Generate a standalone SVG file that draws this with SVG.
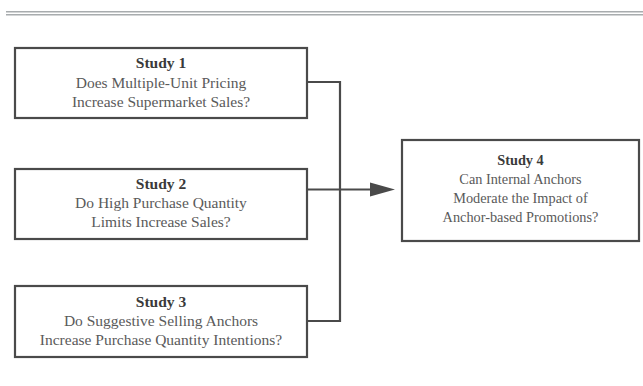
<svg xmlns="http://www.w3.org/2000/svg" width="643" height="386" viewBox="0 0 643 386">
<defs>
<style>
.box{fill:#fff;stroke:#4a4a4a;stroke-width:2.2}
.conn{fill:none;stroke:#4a4a4a;stroke-width:2.2}
.rule{stroke:#a8acae;stroke-width:1.6}
text{font-family:"Liberation Serif","Times New Roman",serif;font-size:15.5px;text-anchor:middle;fill:#5a5a5a}
#study4 text{font-size:14.3px}
.t{font-weight:bold;fill:#3a3a3a}
</style>
</defs>
<rect width="643" height="386" fill="#fff"/>
<line class="rule" x1="6" y1="11.8" x2="643" y2="11.8"/>
<line class="rule" x1="6" y1="14.8" x2="643" y2="14.8"/>
<g id="connectors">
<polyline class="conn" points="307,82 340,82 340,321 307,321"/>
<line class="conn" x1="307" y1="189.5" x2="372" y2="189.5"/>
<polygon points="370,182.5 395,189.5 370,196.5" fill="#4a4a4a"/>
</g>
<g id="study1">
<rect class="box" x="15" y="48" width="292" height="70"/>
<text class="t" x="161" y="68">Study 1</text>
<text x="161" y="88">Does Multiple-Unit Pricing</text>
<text x="161" y="107">Increase Supermarket Sales?</text>
</g>
<g id="study2">
<rect class="box" x="15" y="169" width="292" height="70"/>
<text class="t" x="161" y="189">Study 2</text>
<text x="161" y="208">Do High Purchase Quantity</text>
<text x="161" y="227">Limits Increase Sales?</text>
</g>
<g id="study3">
<rect class="box" x="15" y="286" width="292" height="71"/>
<text class="t" x="161" y="307">Study 3</text>
<text x="161" y="326">Do Suggestive Selling Anchors</text>
<text x="161" y="345">Increase Purchase Quantity Intentions?</text>
</g>
<g id="study4">
<rect class="box" x="402" y="140" width="237" height="101"/>
<text class="t" x="520.5" y="165">Study 4</text>
<text x="520.5" y="184">Can Internal Anchors</text>
<text x="520.5" y="203">Moderate the Impact of</text>
<text x="520.5" y="222">Anchor-based Promotions?</text>
</g>
</svg>
